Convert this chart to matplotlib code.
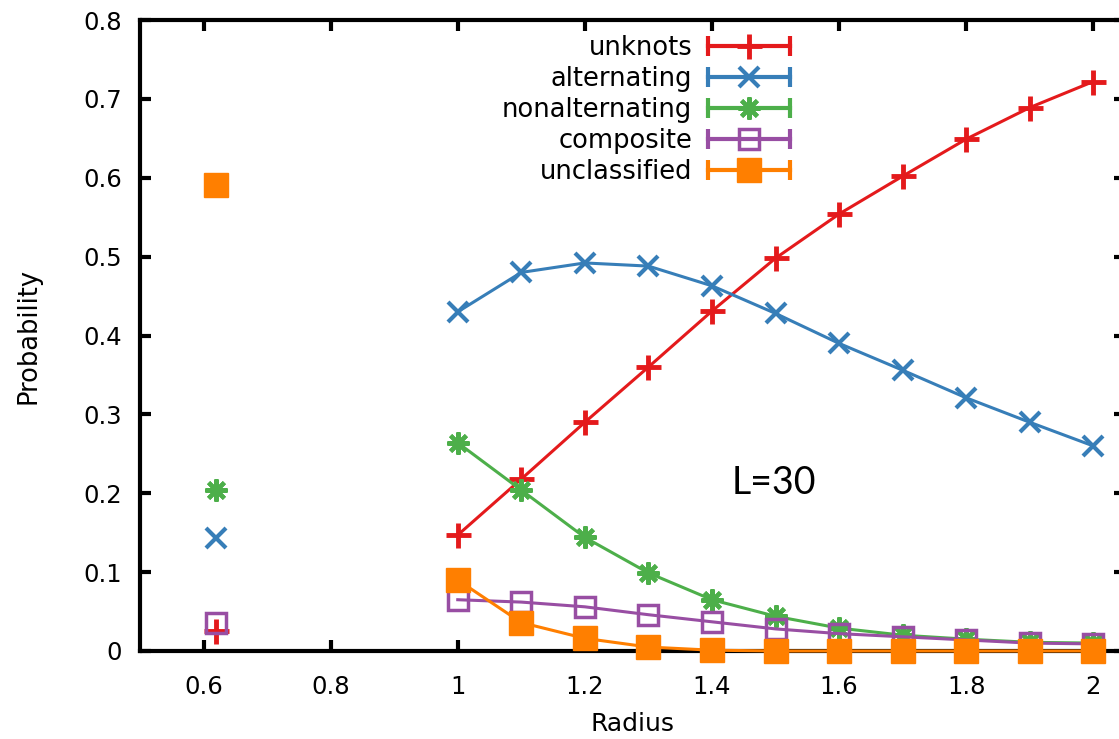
import matplotlib
matplotlib.use("Agg")
import matplotlib.pyplot as plt
from matplotlib.lines import Line2D
from matplotlib.legend_handler import HandlerLine2D

# ---- data ----
radius_small = [0.62]
radius = [1.0, 1.1, 1.2, 1.3, 1.4, 1.5, 1.6, 1.7, 1.8, 1.9, 2.0]

unknots_small = [0.025]
unknots = [0.147, 0.218, 0.290, 0.360, 0.431, 0.498, 0.554, 0.602, 0.649, 0.689, 0.722]

alternating_small = [0.143]
alternating = [0.430, 0.480, 0.492, 0.488, 0.463, 0.428, 0.390, 0.356, 0.321, 0.290, 0.260]

nonalternating_small = [0.204]
nonalternating = [0.264, 0.204, 0.144, 0.099, 0.065, 0.044, 0.029, 0.020, 0.015, 0.011, 0.010]

composite_small = [0.035]
composite = [0.065, 0.062, 0.056, 0.046, 0.037, 0.028, 0.022, 0.018, 0.014, 0.010, 0.009]

unclassified_small = [0.591]
unclassified = [0.090, 0.036, 0.016, 0.005, 0.001, 0.0, 0.0, 0.0, 0.0, 0.0, 0.0]

labels = ["unknots", "alternating", "nonalternating", "composite", "unclassified"]
x_ticks = [0.6, 0.8, 1.0, 1.2, 1.4, 1.6, 1.8, 2.0]
x_tick_labels = ["0.6", "0.8", "1", "1.2", "1.4", "1.6", "1.8", "2"]
y_ticks = [0, 0.1, 0.2, 0.3, 0.4, 0.5, 0.6, 0.7, 0.8]
y_tick_labels = ["0", "0.1", "0.2", "0.3", "0.4", "0.5", "0.6", "0.7", "0.8"]

# ---- styles ----
colors = ["#e41a1c", "#377eb8", "#4daf4a", "#984ea3", "#ff7f00"]
styles = [
    dict(marker="+", ms=18, mew=3.5, mfc=colors[0]),
    dict(marker="x", ms=14, mew=3.0, mfc=colors[1]),
    dict(marker=(8, 2, 0), ms=16, mew=3.0, mfc=colors[2]),
    dict(marker="s", ms=15, mew=2.5, mfc="none"),
    dict(marker="s", ms=17, mew=1.0, mfc=colors[4]),
]

plt.rcParams["font.family"] = ["DejaVu Sans"]
fig = plt.figure(figsize=(11.19, 7.39), dpi=100)
ax = fig.add_axes([0.1251, 0.1191, 0.8803, 0.8538])

series = [
    (unknots_small, unknots),
    (alternating_small, alternating),
    (nonalternating_small, nonalternating),
    (composite_small, composite),
    (unclassified_small, unclassified),
]

handles = []
for i, ((ys, ym), lab) in enumerate(zip(series, labels)):
    st = styles[i]
    c = colors[i]
    ax.plot(radius, ym, color=c, lw=2.2, marker=st["marker"], ms=st["ms"],
            mew=st["mew"], mec=c, mfc=st["mfc"], clip_on=False, zorder=3 + i)
    ax.plot(radius_small, ys, linestyle="none", color=c, marker=st["marker"],
            ms=st["ms"], mew=st["mew"], mec=c, mfc=st["mfc"], clip_on=False, zorder=3 + i)
    handles.append(Line2D([], [], color=c, lw=3, marker=st["marker"], ms=st["ms"],
                          mew=st["mew"], mec=c, mfc=st["mfc"], label=lab))


class HandlerCaps(HandlerLine2D):
    def create_artists(self, legend, orig_handle, xdescent, ydescent, width,
                       height, fontsize, trans):
        arts = super().create_artists(legend, orig_handle, xdescent, ydescent,
                                      width, height, fontsize, trans)
        yd = height / 2 - ydescent
        cap = Line2D([-xdescent, -xdescent + width], [yd, yd], linestyle="none",
                     marker="|", ms=14, mew=3, color=orig_handle.get_color())
        cap.set_transform(trans)
        return arts + [cap]


leg = ax.legend(handles=handles, loc="upper right", bbox_to_anchor=(0.668, 0.989),
                borderaxespad=0.0, borderpad=0.3,
                frameon=False, markerfirst=False, fontsize=18.5, handlelength=3.2,
                handletextpad=0.62, labelspacing=0.2, numpoints=1,
                handler_map={Line2D: HandlerCaps()})
for t in leg.get_texts():
    t.set_ha("right")
leg._legend_box.align = "right"

ax.set_xlim(0.5, 2.05)
ax.set_ylim(0, 0.8)
ax.set_xticks(x_ticks)
ax.set_xticklabels(x_tick_labels)
ax.set_yticks(y_ticks)
ax.set_yticklabels(y_tick_labels)
ax.tick_params(direction="in", length=8, width=3, labelsize=17.5, pad=13,
               top=True, right=True, colors="black")
ax.tick_params(axis="x", pad=17)
for s in ax.spines.values():
    s.set_linewidth(3)

ax.set_xlabel("Radius", fontsize=18, labelpad=10)
ax.set_ylabel("Probability", fontsize=18.5, labelpad=30)
ax.text(1.497, 0.213, "L=30", fontsize=27, family="Lato", ha="center", va="center")

fig.savefig("out.png", dpi=100)
